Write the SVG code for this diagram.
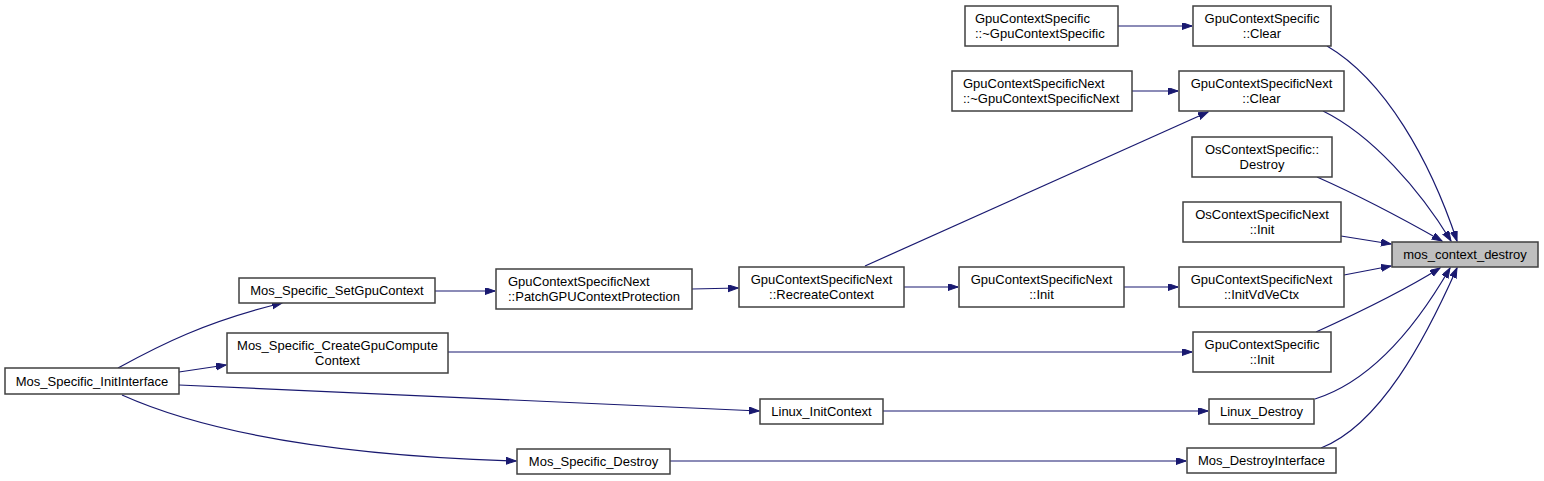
<svg xmlns="http://www.w3.org/2000/svg" width="1544" height="481" viewBox="0 0 1544 481">
<style>
.box{fill:#ffffff;stroke:#404040;stroke-width:1.5}
.hl{fill:#bfbfbf;stroke:#404040;stroke-width:1.5}
text{font-family:"Liberation Sans",Arial,sans-serif;font-size:13px;fill:#000}
.c{text-anchor:middle}
.l{text-anchor:start}
.e{fill:none;stroke:#191970;stroke-width:1.2}
</style>
<defs>
<marker id="ah" markerUnits="userSpaceOnUse" markerWidth="11" markerHeight="8" refX="10" refY="3.5" orient="auto">
<path d="M0,0 L10,3.5 L0,7 z" fill="#191970" stroke="#191970" stroke-width="1"/>
</marker>
</defs>
<g id="connectors">
<path class="e" marker-end="url(#ah)" d="M1118,26 L1192,26"/>
<path class="e" marker-end="url(#ah)" d="M1132,91 L1178,91"/>
<path class="e" marker-end="url(#ah)" d="M865,266 L1208,112"/>
<path class="e" marker-end="url(#ah)" d="M1327,46 C1385,80 1430,160 1457,241"/>
<path class="e" marker-end="url(#ah)" d="M1323,111 C1372,135 1420,190 1451,241"/>
<path class="e" marker-end="url(#ah)" d="M1317,177 C1360,196 1405,220 1442,241"/>
<path class="e" marker-end="url(#ah)" d="M1341,236 L1391,244"/>
<path class="e" marker-end="url(#ah)" d="M1344,275 L1391,266"/>
<path class="e" marker-end="url(#ah)" d="M1316,332 C1360,312 1405,290 1440,268"/>
<path class="e" marker-end="url(#ah)" d="M1315,399 C1375,380 1420,320 1450,268"/>
<path class="e" marker-end="url(#ah)" d="M1321,448 C1380,425 1425,340 1457,268"/>
<path class="e" marker-end="url(#ah)" d="M118,368 C160,345 205,322 282,303"/>
<path class="e" marker-end="url(#ah)" d="M179,372 L226,365"/>
<path class="e" marker-end="url(#ah)" d="M179,385 C350,392 550,400 759,411"/>
<path class="e" marker-end="url(#ah)" d="M122,395 C200,430 320,455 516,461"/>
<path class="e" marker-end="url(#ah)" d="M435,291 L495,291"/>
<path class="e" marker-end="url(#ah)" d="M692,289 L738,288"/>
<path class="e" marker-end="url(#ah)" d="M904,287 L958,287"/>
<path class="e" marker-end="url(#ah)" d="M1124,287 L1178,287"/>
<path class="e" marker-end="url(#ah)" d="M448,352 L1192,352"/>
<path class="e" marker-end="url(#ah)" d="M883,411 L1208,411"/>
<path class="e" marker-end="url(#ah)" d="M670,461 L1186,461"/>
</g>
<g id="n_mos_context_destroy"><rect class="hl" x="1392" y="242" width="146" height="25"/><text class="c" x="1465" y="259">mos_context_destroy</text></g>
<g id="n_gcs_clear"><rect class="box" x="1193" y="6" width="138" height="40"/><text class="c" x="1262" y="22.5">GpuContextSpecific</text><text class="c" x="1262" y="37.5">::Clear</text></g>
<g id="n_gcs_dtor"><rect class="box" x="965" y="6" width="153" height="40"/><text class="l" x="975" y="22.5">GpuContextSpecific</text><text class="l" x="975" y="37.5">::~GpuContextSpecific</text></g>
<g id="n_gcsn_dtor"><rect class="box" x="952" y="71" width="180" height="40"/><text class="l" x="963" y="87.5">GpuContextSpecificNext</text><text class="l" x="963" y="102.5">::~GpuContextSpecificNext</text></g>
<g id="n_gcsn_clear"><rect class="box" x="1179" y="71" width="165" height="40"/><text class="c" x="1261.5" y="87.5">GpuContextSpecificNext</text><text class="c" x="1261.5" y="102.5">::Clear</text></g>
<g id="n_ocs_destroy"><rect class="box" x="1192" y="137" width="140" height="40"/><text class="c" x="1262" y="153.5">OsContextSpecific::</text><text class="c" x="1262" y="168.5">Destroy</text></g>
<g id="n_ocsn_init"><rect class="box" x="1183" y="202" width="158" height="40"/><text class="c" x="1262" y="218.5">OsContextSpecificNext</text><text class="c" x="1262" y="233.5">::Init</text></g>
<g id="n_gcsn_initvdvectx"><rect class="box" x="1179" y="267" width="165" height="40"/><text class="c" x="1261.5" y="283.5">GpuContextSpecificNext</text><text class="c" x="1261.5" y="298.5">::InitVdVeCtx</text></g>
<g id="n_gcs_init"><rect class="box" x="1193" y="332" width="138" height="40"/><text class="c" x="1262" y="348.5">GpuContextSpecific</text><text class="c" x="1262" y="363.5">::Init</text></g>
<g id="n_linux_destroy"><rect class="box" x="1209" y="399" width="105" height="25"/><text class="c" x="1261.5" y="416">Linux_Destroy</text></g>
<g id="n_mos_destroyinterface"><rect class="box" x="1187" y="448" width="149" height="25"/><text class="c" x="1261.5" y="465">Mos_DestroyInterface</text></g>
<g id="n_mos_specific_initinterface"><rect class="box" x="5" y="368" width="174" height="26"/><text class="c" x="92" y="385.5">Mos_Specific_InitInterface</text></g>
<g id="n_mos_specific_setgpucontext"><rect class="box" x="239" y="278" width="196" height="25"/><text class="c" x="337" y="295">Mos_Specific_SetGpuContext</text></g>
<g id="n_mos_specific_creategpucomputecontext"><rect class="box" x="227" y="333" width="221" height="40"/><text class="c" x="337.5" y="349.5">Mos_Specific_CreateGpuCompute</text><text class="c" x="337.5" y="364.5">Context</text></g>
<g id="n_gcsn_patch"><rect class="box" x="496" y="269" width="196" height="40"/><text class="l" x="508" y="285.5">GpuContextSpecificNext</text><text class="l" x="508" y="300.5">::PatchGPUContextProtection</text></g>
<g id="n_gcsn_recreate"><rect class="box" x="739" y="267" width="165" height="40"/><text class="c" x="821.5" y="283.5">GpuContextSpecificNext</text><text class="c" x="821.5" y="298.5">::RecreateContext</text></g>
<g id="n_linux_initcontext"><rect class="box" x="760" y="399" width="123" height="25"/><text class="c" x="821.5" y="416">Linux_InitContext</text></g>
<g id="n_mos_specific_destroy"><rect class="box" x="517" y="449" width="153" height="25"/><text class="c" x="593.5" y="466">Mos_Specific_Destroy</text></g>
<g id="n_gcsn_init"><rect class="box" x="959" y="267" width="165" height="40"/><text class="c" x="1041.5" y="283.5">GpuContextSpecificNext</text><text class="c" x="1041.5" y="298.5">::Init</text></g>
</svg>
